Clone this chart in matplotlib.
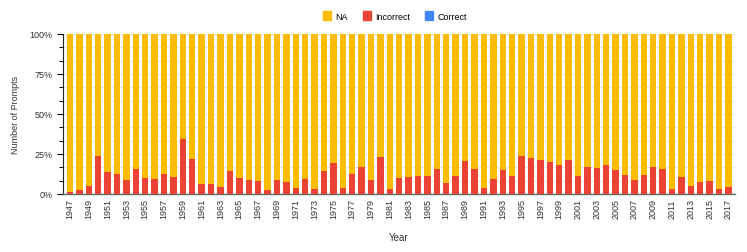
import matplotlib
matplotlib.use("Agg")
import matplotlib.pyplot as plt
from matplotlib.ticker import MultipleLocator, PercentFormatter
from matplotlib.patches import Patch
import numpy as np

years = list(range(1947, 2018))
incorrect = [1.0, 2.3, 4.8, 24.0, 13.7, 12.3, 8.7, 15.4, 10.2, 9.6, 12.5, 10.8,
             34.4, 21.9, 6.0, 6.0, 4.4, 14.2, 10.2, 8.7, 7.9, 2.7, 8.7,
             7.7, 4.0, 9.4, 2.9, 14.6, 19.6, 3.7, 12.5, 17.1, 8.7, 23.3, 3.3,
             10.2, 10.8, 11.5, 11.2, 15.8, 6.9, 11.2, 20.8, 15.8, 3.7, 9.4,
             15.0, 11.5, 24.0, 22.3, 21.0, 20.2, 18.3, 21.0, 11.5, 16.7, 16.2,
             18.3, 15.2, 12.1, 9.0, 12.1, 17.1, 15.8, 3.3, 10.8, 5.2, 7.3, 8.1,
             3.3, 4.4]
correct = [0.0] * len(years)
na = [100.0 - i - c for i, c in zip(incorrect, correct)]

c_na = "#FBBC04"
c_inc = "#EA4335"
c_cor = "#4285F4"

plt.rcParams['font.family'] = ['Liberation Sans', 'DejaVu Sans']

fig = plt.figure(figsize=(7.47, 2.53), dpi=100)
ax = fig.add_axes([63/747, 1-195/253, 672/747, 160/253])

x = np.arange(len(years))
w = 0.68
ax.bar(x, correct, width=w, color=c_cor, zorder=3)
ax.bar(x, incorrect, width=w, bottom=correct, color=c_inc, zorder=3)
ax.bar(x, na, width=w, bottom=np.array(correct) + np.array(incorrect), color=c_na, zorder=3)

ax.set_xlim(-0.74, 70.69)
ax.set_ylim(0, 100)
ax.yaxis.set_major_locator(MultipleLocator(25))
ax.yaxis.set_minor_locator(MultipleLocator(100/12))
ax.yaxis.set_major_formatter(PercentFormatter(decimals=0))
ax.grid(axis='y', which='both', color='#e8e8e8', linewidth=0.8, zorder=0)

ax.set_xticks(x[::2])
ax.set_xticklabels([str(y) for y in years[::2]], rotation=90, fontsize=6.5, color='#333333')
ax.tick_params(axis='y', labelsize=6.5, labelcolor='#333333', length=4, width=0.8)
ax.tick_params(axis='y', which='minor', length=3, width=0.8)
ax.tick_params(axis='x', length=0, pad=3)

for s in ['top', 'right']:
    ax.spines[s].set_visible(False)
ax.spines['left'].set_color('#222222')
ax.spines['left'].set_linewidth(0.8)
ax.spines['bottom'].set_color('#666666')
ax.spines['bottom'].set_linewidth(1.0)

ax.set_xlabel("Year", fontsize=7, color='#333333', labelpad=10)
ax.set_ylabel("Number of Prompts", fontsize=6.5, color='#333333', labelpad=7)

handles = [Patch(color=c_na, label='NA'), Patch(color=c_inc, label='Incorrect'),
           Patch(color=c_cor, label='Correct')]
fig.legend(handles=handles, loc='center', bbox_to_anchor=(395/747, 1-17/253), ncol=3,
           frameon=False, fontsize=6.5, handlelength=0.9, handleheight=1.1,
           handletextpad=0.5, columnspacing=1.6)

fig.savefig("out.png", dpi=100)
